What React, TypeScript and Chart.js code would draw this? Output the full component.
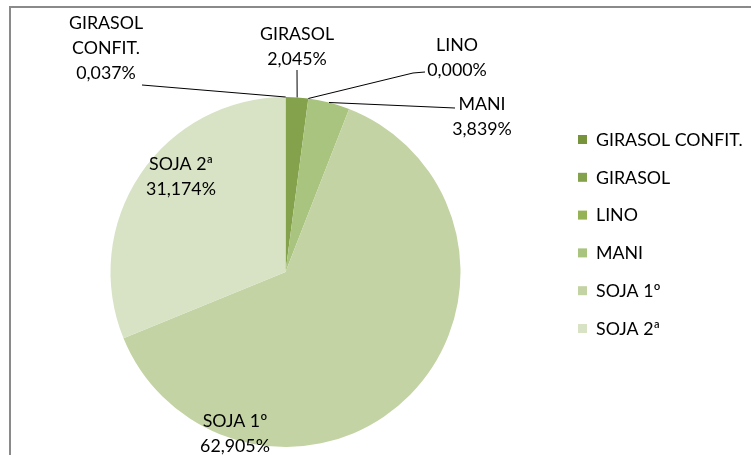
import React, { useEffect, useRef } from 'react';
import { Chart, registerables } from 'chart.js';

Chart.register(...registerables);

const categories = ['GIRASOL CONFIT.', 'GIRASOL', 'LINO', 'MANI', 'SOJA 1º', 'SOJA 2ª'];
const shares = [0.037, 2.045, 0.0, 3.839, 62.905, 31.174];
const sliceColors = ['#77933C', '#84A14B', '#95B354', '#A9C47E', '#C3D3A4', '#D7E3C4'];

// Label placement relative to the pie centre (px); leader points relative to centre
const labelLayout = [
  { dx: -179.5, dy: -224, wrap: true, leader: [[-143.5, -187]] },
  { dx: 11.5, dy: -225.5, wrap: false, leader: [[11.5, -202]] },
  { dx: 171.5, dy: -214.5, wrap: false, leader: [[127.5, -199], [139.5, -200]] },
  { dx: 196.5, dy: -155, wrap: false, leader: [[169.5, -164]] },
  { dx: -50.5, dy: 161.5, wrap: false, leader: [] as number[][] },
  { dx: -104.5, dy: -95, wrap: false, leader: [] as number[][] },
];

const FONT = '17.8px Lato';
const LINE_H = 25;

const fmt = (v: number) => v.toFixed(3).replace('.', ',') + '%';

const labelPlugin = {
  id: 'pieLabels',
  afterDatasetsDraw(chart: any) {
    const ctx = chart.ctx;
    const meta = chart.getDatasetMeta(0);
    const ds = chart.data.datasets[0];
    ctx.save();
    ctx.font = FONT;
    ctx.fillStyle = '#000';
    ctx.textAlign = 'center';
    ctx.textBaseline = 'middle';
    ctx.strokeStyle = '#000';
    ctx.lineWidth = 1;
    meta.data.forEach((arc: any, i: number) => {
      const lay = labelLayout[i];
      const cx = arc.x;
      const cy = arc.y;
      const name = chart.data.labels[i] as string;
      const lines = lay.wrap ? name.split(' ') : [name];
      lines.push(fmt(ds.data[i]));
      const tx = cx + lay.dx;
      const ty = cy + lay.dy;
      const y0 = ty - ((lines.length - 1) * LINE_H) / 2;
      lines.forEach((ln: string, k: number) => ctx.fillText(ln, tx, y0 + k * LINE_H));
      if (lay.leader.length) {
        const mid = (arc.startAngle + arc.endAngle) / 2;
        const r = arc.outerRadius;
        ctx.beginPath();
        ctx.moveTo(cx + Math.cos(mid) * r, cy + Math.sin(mid) * r);
        lay.leader.forEach((p: number[]) => ctx.lineTo(cx + p[0], cy + p[1]));
        ctx.stroke();
      }
    });
    ctx.restore();
  },
};

const legendPlugin = {
  id: 'sideLegend',
  afterDraw(chart: any) {
    const ctx = chart.ctx;
    const ds = chart.data.datasets[0];
    ctx.save();
    ctx.font = FONT;
    ctx.textAlign = 'left';
    ctx.textBaseline = 'middle';
    const x0 = 578;
    const y0 = 139.5;
    const step = 37.8;
    chart.data.labels.forEach((lab: string, i: number) => {
      const y = y0 + i * step;
      ctx.fillStyle = ds.backgroundColor[i];
      ctx.fillRect(x0, y - 4.5, 9, 9);
      ctx.fillStyle = '#000';
      ctx.fillText(lab, x0 + 18, y + 0.5);
    });
    ctx.restore();
  },
};

export default function App() {
  const ref = useRef<HTMLCanvasElement | null>(null);
  useEffect(() => {
    if (!ref.current) return;
    const chart = new Chart(ref.current, {
      type: 'pie',
      data: {
        labels: categories,
        datasets: [
          {
            data: shares,
            backgroundColor: sliceColors,
            borderWidth: 0,
          },
        ],
      },
      options: {
        animation: false,
        responsive: false,
        radius: 175,
        layout: { padding: { left: 0, right: 180, top: 89, bottom: 0 } },
        plugins: {
          legend: { display: false },
          tooltip: { enabled: false },
        },
      } as any,
      plugins: [labelPlugin, legendPlugin],
    });
    return () => chart.destroy();
  }, []);
  return (
    <div style={{ position: 'fixed', left: 0, top: 0, width: 751, height: 455, background: '#fff', overflow: 'hidden' }}>
      <div
        style={{
          position: 'absolute',
          left: 9,
          top: 6,
          width: 900,
          height: 600,
          borderLeft: '2px solid #8a8a8a',
          borderTop: '2px solid #8a8a8a',
        }}
      />
      <canvas ref={ref} width={751} height={455} style={{ position: 'absolute', left: 0, top: 0 }} />
    </div>
  );
}
